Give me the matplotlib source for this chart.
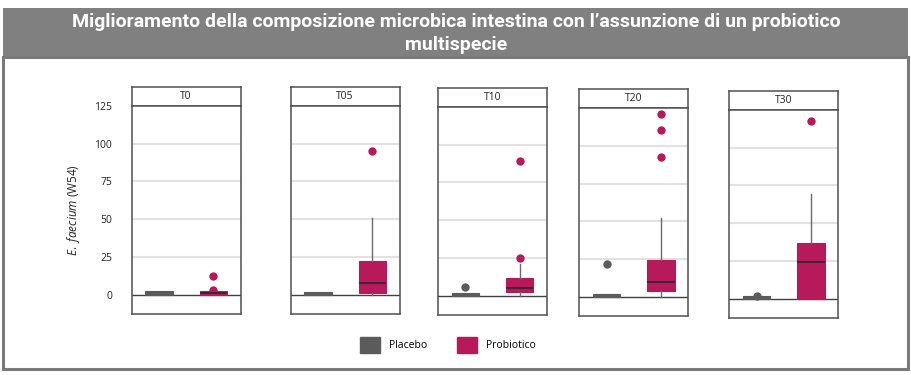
import matplotlib
matplotlib.use("Agg")
import matplotlib.pyplot as plt
from matplotlib.patches import Rectangle, Patch

plt.rcParams['font.family'] = ['Open Sans', 'DejaVu Sans']
plt.rcParams['mathtext.fontset'] = 'custom'
plt.rcParams['mathtext.it'] = 'Open Sans:italic'
plt.rcParams['mathtext.rm'] = 'Open Sans'

# Dati
tempi = ["T0", "T05", "T10", "T20", "T30"]

placebo_q1 = [0, 0, 0, 0, 0]
placebo_med = [1, 0.8, 0.8, 0.8, 0.8]
placebo_q3 = [2, 1.8, 1.8, 1.8, 1.8]
placebo_whislo = [0, 0, 0, 0, 0]
placebo_whishi = [2, 1.8, 1.8, 1.8, 1.8]
placebo_fliers = [[], [], [5.5], [21.5], [1.8]]

probio_q1 = [0, 1, 2, 4, 0]
probio_med = [1, 7.5, 5, 9.5, 24.5]
probio_q3 = [2, 22.5, 11.5, 24.5, 36.5]
probio_whislo = [0, 0, 0, 0, 0]
probio_whishi = [2, 51, 21, 52, 69.5]
probio_fliers = [[12.5, 3.3], [95.5], [25, 89], [92.5, 110.5, 121], [118]]

yticks = [0, 25, 50, 75, 100, 125]

col_placebo = "#5b5b5b"
col_probio = "#b8195b"

W, H = 912, 375
fig = plt.figure(figsize=(W / 100, H / 100), dpi=100)


def fx(px):
    return px / W


def fy(py):
    return 1 - py / H


# cornice e banner del titolo
fig.add_artist(Rectangle((fx(3), fy(57)), fx(905), 49 / H, transform=fig.transFigure,
                         facecolor="#808080", edgecolor="none"))
fig.add_artist(Rectangle((fx(3), fy(369)), fx(905), 312 / H, transform=fig.transFigure,
                         facecolor="none", edgecolor="#7a7a7a", lw=2.2))
fig.text(0.5, fy(22), "Miglioramento della composizione microbica intestina con l\u2019assunzione di un probiotico",
         ha="center", va="center", color="white", fontsize=14, fontweight="bold",
         family=["Roboto", "DejaVu Sans"])
fig.text(0.5, fy(45), "multispecie", ha="center", va="center", color="white", fontsize=14,
         fontweight="bold", family=["Roboto", "DejaVu Sans"])

lefts = [131.7, 290.7, 438, 579.3, 729.3]
tops = [86.7, 86.7, 87.7, 89, 90.7]
pw, hh, ph = 109, 19.4, 208

for i, t in enumerate(tempi):
    x0 = lefts[i]
    top = tops[i]
    # intestazione del pannello
    hax = fig.add_axes([fx(x0), fy(top + hh), pw / W, hh / H])
    hax.set_xticks([])
    hax.set_yticks([])
    for s in hax.spines.values():
        s.set_color("#505050")
        s.set_linewidth(1.1)
    hax.text(0.5, 0.5, t, ha="center", va="center", fontsize=7.5, color="#222222",
             transform=hax.transAxes)

    ax = fig.add_axes([fx(x0), fy(top + hh + ph), pw / W, ph / H])
    ax.set_xlim(0.5, 2.5)
    ax.set_ylim(-13, 125)
    for y in yticks[1:-1]:
        ax.axhline(y, color="#e2e2e2", lw=1.5, zorder=0)
    ax.axhline(0, color="#404040", lw=1.0, zorder=1)

    stats = [
        dict(q1=placebo_q1[i], med=placebo_med[i], q3=placebo_q3[i],
             whislo=placebo_whislo[i], whishi=placebo_whishi[i], fliers=placebo_fliers[i]),
        dict(q1=probio_q1[i], med=probio_med[i], q3=probio_q3[i],
             whislo=probio_whislo[i], whishi=probio_whishi[i], fliers=probio_fliers[i]),
    ]
    for k, (st, col) in enumerate(zip(stats, [col_placebo, col_probio])):
        ax.bxp([st], positions=[k + 1], widths=0.5, patch_artist=True, showcaps=False,
               boxprops=dict(facecolor=col, edgecolor=col, lw=0.8),
               whiskerprops=dict(color="#6a6a6a", lw=1.0),
               medianprops=dict(color="#3a2630" if k else col, lw=1.4),
               flierprops=dict(marker="o", markersize=6, markerfacecolor=col,
                               markeredgecolor="none"),
               zorder=2)
    ax.set_xticks([])
    for s in ax.spines.values():
        s.set_color("#505050")
        s.set_linewidth(1.1)
    if i == 0:
        ax.set_yticks(yticks)
        ax.tick_params(axis="y", length=0, pad=14, labelsize=7.5, labelcolor="#222222")
        ax.set_ylabel(r"$\it{E.\ faecium}$ (W54)", fontsize=8.5, color="#222222", labelpad=9)
    else:
        ax.set_yticks([])

handles = [Patch(facecolor=col_placebo, edgecolor=col_placebo, label="Placebo"),
           Patch(facecolor=col_probio, edgecolor=col_probio, label="Probiotico")]
fig.legend(handles=handles, loc="center", bbox_to_anchor=(fx(448), fy(345)), ncol=2,
           frameon=False, fontsize=7.5, handlelength=1.9, handleheight=1.9,
           handletextpad=0.9, columnspacing=2.8)

fig.savefig("out.png", dpi=100)
